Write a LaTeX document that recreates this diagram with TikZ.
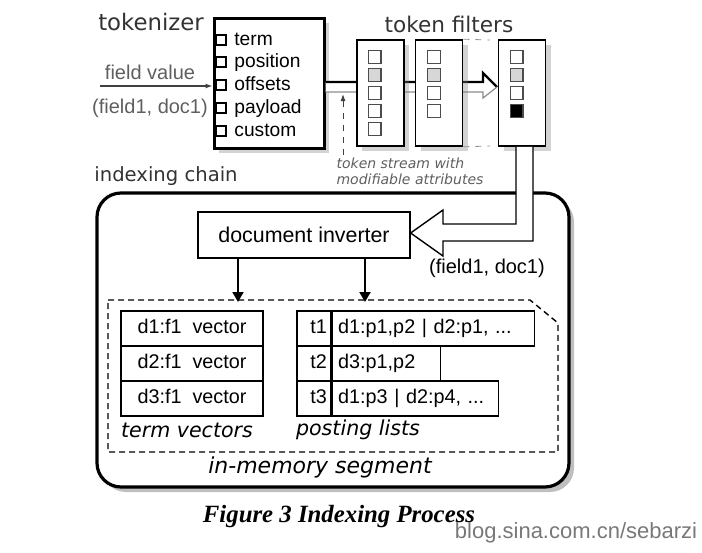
\documentclass[tikz,border=0pt]{standalone}
\usepackage{fontspec}
\setmainfont{Liberation Sans}
\newfontfamily\wideface{DejaVu Sans}
\newfontfamily\capface{Liberation Serif}
\usetikzlibrary{arrows.meta,positioning,calc,shadows}
\definecolor{lineGray}{RGB}{140,140,140}
\definecolor{textGray}{RGB}{95,95,95}
\definecolor{cellGray}{RGB}{215,215,215}
\definecolor{markGray}{RGB}{120,120,120}
\tikzset{
  shade/.style={drop shadow={opacity=0.35, shadow xshift=2.5pt, shadow yshift=-2.5pt}},
  stage/.style={draw, line width=1.5pt, fill=white, shade},
  filt/.style={draw, line width=0.8pt, fill=white, minimum width=23.5pt, minimum height=53pt, shade},
  chainbox/.style={draw, line width=1.6pt, rounded corners=12pt, fill=white, drop shadow={opacity=0.5, shadow xshift=2.5pt, shadow yshift=-2.5pt}},
  port/.style={draw, line width=0.6pt, minimum size=5pt, inner sep=0pt, fill=white},
  fsq/.style={draw=black!70, line width=0.6pt, minimum size=6.4pt, inner sep=0pt},
  attr/.style={anchor=west, inner sep=0pt, text height=7pt, text depth=2pt, font=\fontsize{9.6}{11}\selectfont},
  cell/.style={draw, line width=0.6pt, minimum height=17.5pt, inner sep=0pt, text height=7pt, text depth=2pt, font=\fontsize{9.9}{11}\selectfont},
  head/.style={font=\wideface\fontsize{10.8}{13}\selectfont, text=black!80},
  tag/.style={font=\wideface\itshape\fontsize{10.3}{12}\selectfont},
  note/.style={align=left, text=textGray, font=\wideface\itshape\fontsize{7}{8}\selectfont},
  down/.style={-{Triangle[length=5pt,width=5.5pt]}, line width=1pt},
  feed/.style={-{Latex[length=3.5pt,width=2.5pt]}, line width=0.6pt, black!75},
  seg/.style={line width=0.7pt, dash pattern=on 3pt off 2pt}
}
\begin{document}
\begin{tikzpicture}[x=0.5pt,y=-0.5pt]
  \useasboundingbox (0,0) rectangle (702,552);

  % headings
  \node[head, font=\wideface\fontsize{11.4}{13}\selectfont] (tokhead) at (151,22) {tokenizer};
  \node[head] (filthead) at (449,24) {token filters};
  \node[head, font=\wideface\fontsize{9.8}{12}\selectfont] (chainhead) at (166,176) {indexing chain};

  % indexing chain frame
  \node[chainbox, minimum width=236pt, minimum height=147pt] (chain) at (333,340) {};

  % tokenizer with its attributes
  \node[stage, minimum width=55pt, minimum height=65pt] (tok) at (269,83) {};
  \foreach \y/\t [count=\i] in {40/term, 62/position, 85/offsets, 108/payload, 131/custom} {
    \node[port] (p\i) at (221,\y) {};
    \node[attr] (a\i) at (234,\y) {\t};
  }

  % field value in
  \node[text=textGray, font=\fontsize{10}{12}\selectfont] (fval) at (150,72) {field value};
  \node[text=textGray, font=\fontsize{10}{12}\selectfont] (fdoc) at (150,108) {(field1, doc1)};
  \coordinate (fin) at (100,86);
  \draw[feed] (fin) -- (tok.west |- fin);

  % token stream (hollow arrow behind the filters)
  \fill[white] (tok.east |- 0,82) -- (483,82) -- (483,73) -- (497,87) -- (483,98) -- (483,92) -- (tok.east |- 0,92) -- cycle;
  \draw[line width=1.2pt] (tok.east |- 0,82) -- (483,82) -- (483,73) -- (497,87);
  \draw[lineGray, line width=0.6pt] (497,87) -- (483,98) -- (483,92) -- (tok.east |- 0,92);

  % filters
  \node[filt] (f1) at (380.5,93) {};
  \node[filt] (f2) at (439,93) {};
  \node[filt] (f3) at (522,93) {};
  \foreach \y/\c [count=\i] in {57/white, 75/cellGray, 93/white, 111/white, 129/white}
    \node[fsq, fill=\c] (f1s\i) at (374.5,\y) {};
  \foreach \y/\c [count=\i] in {57/white, 75/cellGray, 93/white, 111/white}
    \node[fsq, fill=\c] (f2s\i) at (434,\y) {};
  \foreach \y/\c [count=\i] in {57/white, 75/cellGray, 93/white, 111/black}
    \node[fsq, fill=\c] (f3s\i) at (516.5,\y) {};
  \draw[lineGray, dash pattern=on 3pt off 3pt] (f2.north east) -- (490,40);
  \draw[lineGray, dash pattern=on 3pt off 3pt] (f2.south east) -- (490,146);

  % token stream note
  \node[note] (stream) at (410,171) {token stream with\\modifiable attributes};
  \coordinate (sb) at (343,155);
  \draw[feed, dashed, line width=0.5pt] (sb) -- (343,94);

  % inverter
  \node[draw, line width=0.6pt, fill=white, minimum width=106pt, minimum height=23pt,
        font=\fontsize{10.7}{12}\selectfont] (inv) at (304,235) {document inverter};
  \filldraw[fill=white, line width=0.7pt] ($(f3.south)+(-6,0)$) -- (516,224) -- (443,224) -- (443,210)
    -- (inv.east |- 0,233) -- (443,256) -- (443,241) -- (533,241) -- ($(f3.south)+(11,0)$);
  \node[font=\fontsize{10}{12}\selectfont] (pair) at (487,268) {(field1, doc1)};

  % in-memory segment
  \draw[seg] (108,300) -- (530,300) -- (558,323) -- (558,452) -- (108,452) -- cycle;
  \coordinate (tvin) at (238,302);
  \coordinate (plin) at (365,302);
  \draw[down] (inv.south -| tvin) -- (tvin);
  \draw[down] (inv.south -| plin) -- (plin);

  % term vectors
  \foreach \r/\y in {1/328.5, 2/363.5, 3/398.5}
    \node[cell, minimum width=71pt] (tv\r) at (192,\y) {d\r:f1\hspace{0.55em}vector};
  \node[tag] (tvlab) at (187,430) {term vectors};

  % posting lists
  \node[cell, minimum width=17pt, text width=13pt, align=right] (t1) at (314,328.5) {t1};
  \node[cell, minimum width=17pt, text width=13pt, align=right] (t2) at (314,363.5) {t2};
  \node[cell, minimum width=17pt, text width=13pt, align=right] (t3) at (314,398.5) {t3};
  \node[cell, anchor=west, minimum width=101pt, text width=95pt, align=left] (l1) at (t1.east) {d1:p1,p2 | d2:p1, ...};
  \node[cell, anchor=west, minimum width=54pt, text width=48pt, align=left] (l2) at (t2.east) {d3:p1,p2};
  \node[cell, anchor=west, minimum width=83pt, text width=77pt, align=left] (l3) at (t3.east) {d1:p3 | d2:p4, ...};
  \node[tag] (pllab) at (358,430) {posting lists};

  \node[tag, font=\wideface\itshape\fontsize{11}{13}\selectfont] (seglab) at (320,467) {in-memory segment};

  % caption
  \node[font=\capface\bfseries\itshape\fontsize{12.4}{14}\selectfont] (cap) at (339,517) {Figure 3 Indexing Process};
  \node[text=markGray, font=\fontsize{11}{13}\selectfont] (mark) at (576,533) {blog.sina.com.cn/sebarzi};
\end{tikzpicture}
\end{document}
